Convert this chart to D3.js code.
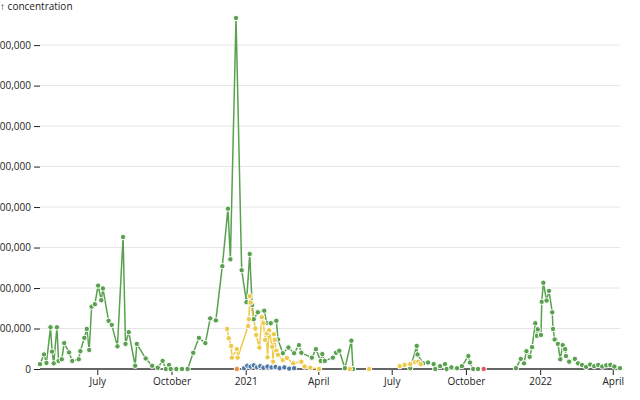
<!DOCTYPE html>
<html>
<head>
<meta charset="utf-8">
<script src="https://cdn.jsdelivr.net/npm/d3@7"></script>
<style>
  body { margin: 0; background: #fff; }
  svg { font-family: "Open Sans", sans-serif; font-size: 10px; }
</style>
</head>
<body>
<div id="chart"></div>
<script>
// concentration readings per series, null = gap in the line
const greenSeries = [
    ["2020-04-21", 120000], ["2020-04-26", 360000], ["2020-04-29", 150000], ["2020-05-04", 1030000],
    ["2020-05-06", 430000], ["2020-05-08", 140000], ["2020-05-12", 1030000], ["2020-05-14", 200000],
    ["2020-05-18", 240000], ["2020-05-21", 640000], ["2020-05-27", 410000], ["2020-05-31", 200000],
    ["2020-06-08", 240000], ["2020-06-10", 440000], ["2020-06-15", 770000], ["2020-06-18", 990000],
    ["2020-06-21", 470000], ["2020-06-24", 1540000], ["2020-06-28", 1600000], ["2020-07-02", 2060000],
    ["2020-07-06", 1700000], ["2020-07-08", 1990000], ["2020-07-15", 1190000], ["2020-07-19", 1090000],
    ["2020-07-26", 560000], ["2020-08-02", 3260000], ["2020-08-05", 620000], ["2020-08-09", 910000],
    ["2020-08-17", 80000], ["2020-08-19", 620000], ["2020-08-30", 260000], ["2020-09-07", 80000],
    ["2020-09-14", 30000], ["2020-09-20", 200000], ["2020-09-24", 0], ["2020-09-28", 100000],
    ["2020-09-30", 0], ["2020-10-07", 0], ["2020-10-14", 0], ["2020-10-21", 0],
    ["2020-10-28", 400000], ["2020-11-04", 770000], ["2020-11-12", 640000], ["2020-11-18", 1250000],
    ["2020-11-25", 1200000], ["2020-12-03", 2540000], ["2020-12-10", 3960000], ["2020-12-13", 2710000],
    ["2020-12-20", 8670000], ["2020-12-27", 2440000], ["2021-01-02", 1650000], ["2021-01-06", 2840000],
    ["2021-01-09", 1580000], ["2021-01-11", 1230000], ["2021-01-16", 1400000], ["2021-01-24", 1440000],
    ["2021-01-27", 1140000], ["2021-02-01", 1130000], ["2021-02-08", 1190000], ["2021-02-10", 730000],
    ["2021-02-16", 390000], ["2021-02-23", 530000], ["2021-03-02", 390000], ["2021-03-08", 590000],
    ["2021-03-11", 400000], ["2021-03-24", 280000], ["2021-03-29", 490000], ["2021-04-04", 200000],
    ["2021-04-06", 370000], ["2021-04-09", 200000], ["2021-04-19", 280000], ["2021-04-23", 400000],
    ["2021-04-27", 450000], ["2021-05-04", 20000], ["2021-05-12", 700000], ["2021-05-14", 0],
    ["2021-06-15", null],
    ["2021-07-24", 20000], ["2021-08-01", 570000], ["2021-08-02", 360000], ["2021-08-09", 140000],
    ["2021-08-15", 160000], ["2021-08-22", 120000], ["2021-08-24", 0], ["2021-08-30", 70000],
    ["2021-09-05", 120000], ["2021-09-07", 0], ["2021-09-13", 40000], ["2021-09-20", 20000],
    ["2021-09-26", 70000], ["2021-10-04", 320000], ["2021-10-06", 160000], ["2021-10-10", 0],
    ["2021-10-16", 0],
    ["2021-11-10", null],
    ["2021-12-02", 20000], ["2021-12-08", 250000], ["2021-12-12", 140000], ["2021-12-15", 440000],
    ["2021-12-19", 300000], ["2021-12-22", 540000], ["2021-12-26", 1130000], ["2021-12-28", 820000],
    ["2021-12-29", 980000], ["2022-01-02", 840000], ["2022-01-03", 1660000], ["2022-01-05", 2130000],
    ["2022-01-09", 1690000], ["2022-01-12", 1930000], ["2022-01-16", 1400000], ["2022-01-17", 990000],
    ["2022-01-19", 730000], ["2022-01-23", 620000], ["2022-01-26", 240000], ["2022-01-29", 590000],
    ["2022-02-01", 490000], ["2022-02-02", 320000], ["2022-02-06", 180000], ["2022-02-13", 250000],
    ["2022-02-17", 140000], ["2022-02-22", 100000], ["2022-02-27", 50000], ["2022-03-04", 110000],
    ["2022-03-09", 70000], ["2022-03-14", 100000], ["2022-03-19", 60000], ["2022-03-24", 90000],
    ["2022-03-29", 100000], ["2022-04-03", 60000], ["2022-04-10", 20000]
];

const yellowSeries = [
    ["2020-12-09", 990000], ["2020-12-11", 760000], ["2020-12-14", 570000], ["2020-12-15", 280000],
    ["2020-12-21", 490000], ["2020-12-22", 280000], ["2021-01-04", 1060000], ["2021-01-05", 1230000],
    ["2021-01-06", 1800000], ["2021-01-07", 1640000], ["2021-01-13", 1000000], ["2021-01-14", 840000],
    ["2021-01-18", 530000], ["2021-01-21", 1280000], ["2021-01-23", 1130000], ["2021-01-25", 720000],
    ["2021-01-27", 880000], ["2021-01-28", 290000], ["2021-01-30", 960000], ["2021-02-03", 550000],
    ["2021-02-04", 180000], ["2021-02-05", 860000], ["2021-02-06", 720000], ["2021-02-08", 450000],
    ["2021-02-10", 350000], ["2021-02-16", 220000], ["2021-02-21", 270000], ["2021-03-01", 140000],
    ["2021-03-11", 180000], ["2021-03-15", 60000], ["2021-03-22", 30000], ["2021-04-02", 0],
    ["2021-04-20", null],
    ["2021-05-10", 0],
    ["2021-05-20", null],
    ["2021-06-03", 0],
    ["2021-06-20", null],
    ["2021-07-11", 70000], ["2021-07-17", 100000], ["2021-07-24", 120000], ["2021-07-30", 170000],
    ["2021-08-03", 180000], ["2021-08-06", 120000]
];

const blueSeries = [
    ["2020-12-30", 20000], ["2021-01-03", 80000], ["2021-01-07", 60000], ["2021-01-11", 90000],
    ["2021-01-15", 40000], ["2021-01-19", 70000], ["2021-01-23", 30000], ["2021-01-28", 60000],
    ["2021-02-02", 40000], ["2021-02-07", 50000], ["2021-02-12", 20000], ["2021-02-18", 40000],
    ["2021-02-24", 10000], ["2021-03-02", 20000]
];

const orangeSeries = [["2020-12-21", 0]];
const redSeries = [["2021-10-23", 0]];

const seriesColors = ["#59a14f", "#edc948", "#4e79a7", "#f28e2b", "#e15759"];
const yLabel = "↑ concentration";

// set up svg
const width = 640,
    height = 400,
    margin = {
        top: 18,
        right: 20,
        bottom: 31,
        left: 40
    };

const parse = d3.utcParse("%Y-%m-%d");

let series = [greenSeries, yellowSeries, blueSeries, orangeSeries, redSeries].map(function (s, i) {
    return {
        color: seriesColors[i],
        points: s.map(function (d) {
            return { date: parse(d[0]), value: d[1] };
        })
    };
});

let allPoints = series.flatMap(function (s) { return s.points; }).filter(function (d) { return d.value != null; });

let x = d3.scaleUtc()
    .domain(d3.extent(allPoints, function (d) { return d.date; }))
    .range([margin.left, width - margin.right]);

let y = d3.scaleLinear()
    .domain([0, d3.max(allPoints, function (d) { return d.value; })])
    .range([height - margin.bottom, margin.top]);

let svg = d3.select("#chart")
    .append("svg")
    .attr("width", width)
    .attr("height", height)
    .attr("viewBox", [0, 0, width, height]);

// grid
let yTicks = d3.range(0, 8000001, 1000000);

svg.append("g")
    .selectAll("line")
    .data(yTicks.slice(1))
    .enter()
    .append("line")
    .attr("x1", margin.left)
    .attr("x2", width - margin.right)
    .attr("y1", function (d) { return y(d); })
    .attr("y2", function (d) { return y(d); })
    .attr("stroke", "#000")
    .attr("stroke-opacity", 0.1);

// y axis
let yAxis = svg.append("g")
    .attr("transform", "translate(" + margin.left + ",0)")
    .call(d3.axisLeft(y).tickValues(yTicks).tickFormat(d3.format(",")).tickSize(6).tickPadding(3));
yAxis.select(".domain").remove();
yAxis.selectAll("text").attr("fill", "#222").style("font-size", "10px").style("font-family", "'Open Sans', sans-serif");
yAxis.selectAll("line").attr("stroke", "#222");

svg.append("text")
    .attr("x", 0)
    .attr("y", 10)
    .attr("fill", "#222")
    .text(yLabel);

// x axis
let monthFormat = d3.utcFormat("%B"),
    yearFormat = d3.utcFormat("%Y");

let xAxis = svg.append("g")
    .attr("transform", "translate(0," + (height - margin.bottom) + ")")
    .call(d3.axisBottom(x)
        .ticks(d3.utcMonth.every(3))
        .tickFormat(function (d) {
            return d.getUTCMonth() === 0 ? yearFormat(d) : monthFormat(d);
        })
        .tickSize(6)
        .tickPadding(3));
xAxis.select(".domain").remove();
xAxis.selectAll("text").attr("fill", "#222").style("font-size", "10px").style("font-family", "'Open Sans', sans-serif");
xAxis.selectAll("line").attr("stroke", "#222");

// baseline rule
svg.append("line")
    .attr("x1", margin.left)
    .attr("x2", width - margin.right)
    .attr("y1", y(0))
    .attr("y2", y(0))
    .attr("stroke", "#666")
    .attr("stroke-width", 2);

// lines
let line = d3.line()
    .defined(function (d) { return d.value != null; })
    .x(function (d) { return x(d.date); })
    .y(function (d) { return y(d.value); });

svg.append("g")
    .selectAll("path")
    .data(series)
    .enter()
    .append("path")
    .attr("fill", "none")
    .attr("stroke", function (d) { return d.color; })
    .attr("stroke-width", 1.5)
    .attr("stroke-linejoin", "round")
    .attr("d", function (d) { return line(d.points); });

// dots
series.forEach(function (s) {
    svg.append("g")
        .selectAll("circle")
        .data(s.points.filter(function (d) { return d.value != null; }))
        .enter()
        .append("circle")
        .attr("cx", function (d) { return x(d.date); })
        .attr("cy", function (d) { return y(d.value); })
        .attr("r", 2.7)
        .attr("fill", s.color)
        .attr("stroke", "#fff")
        .attr("stroke-width", 1);
});
</script>
</body>
</html>
